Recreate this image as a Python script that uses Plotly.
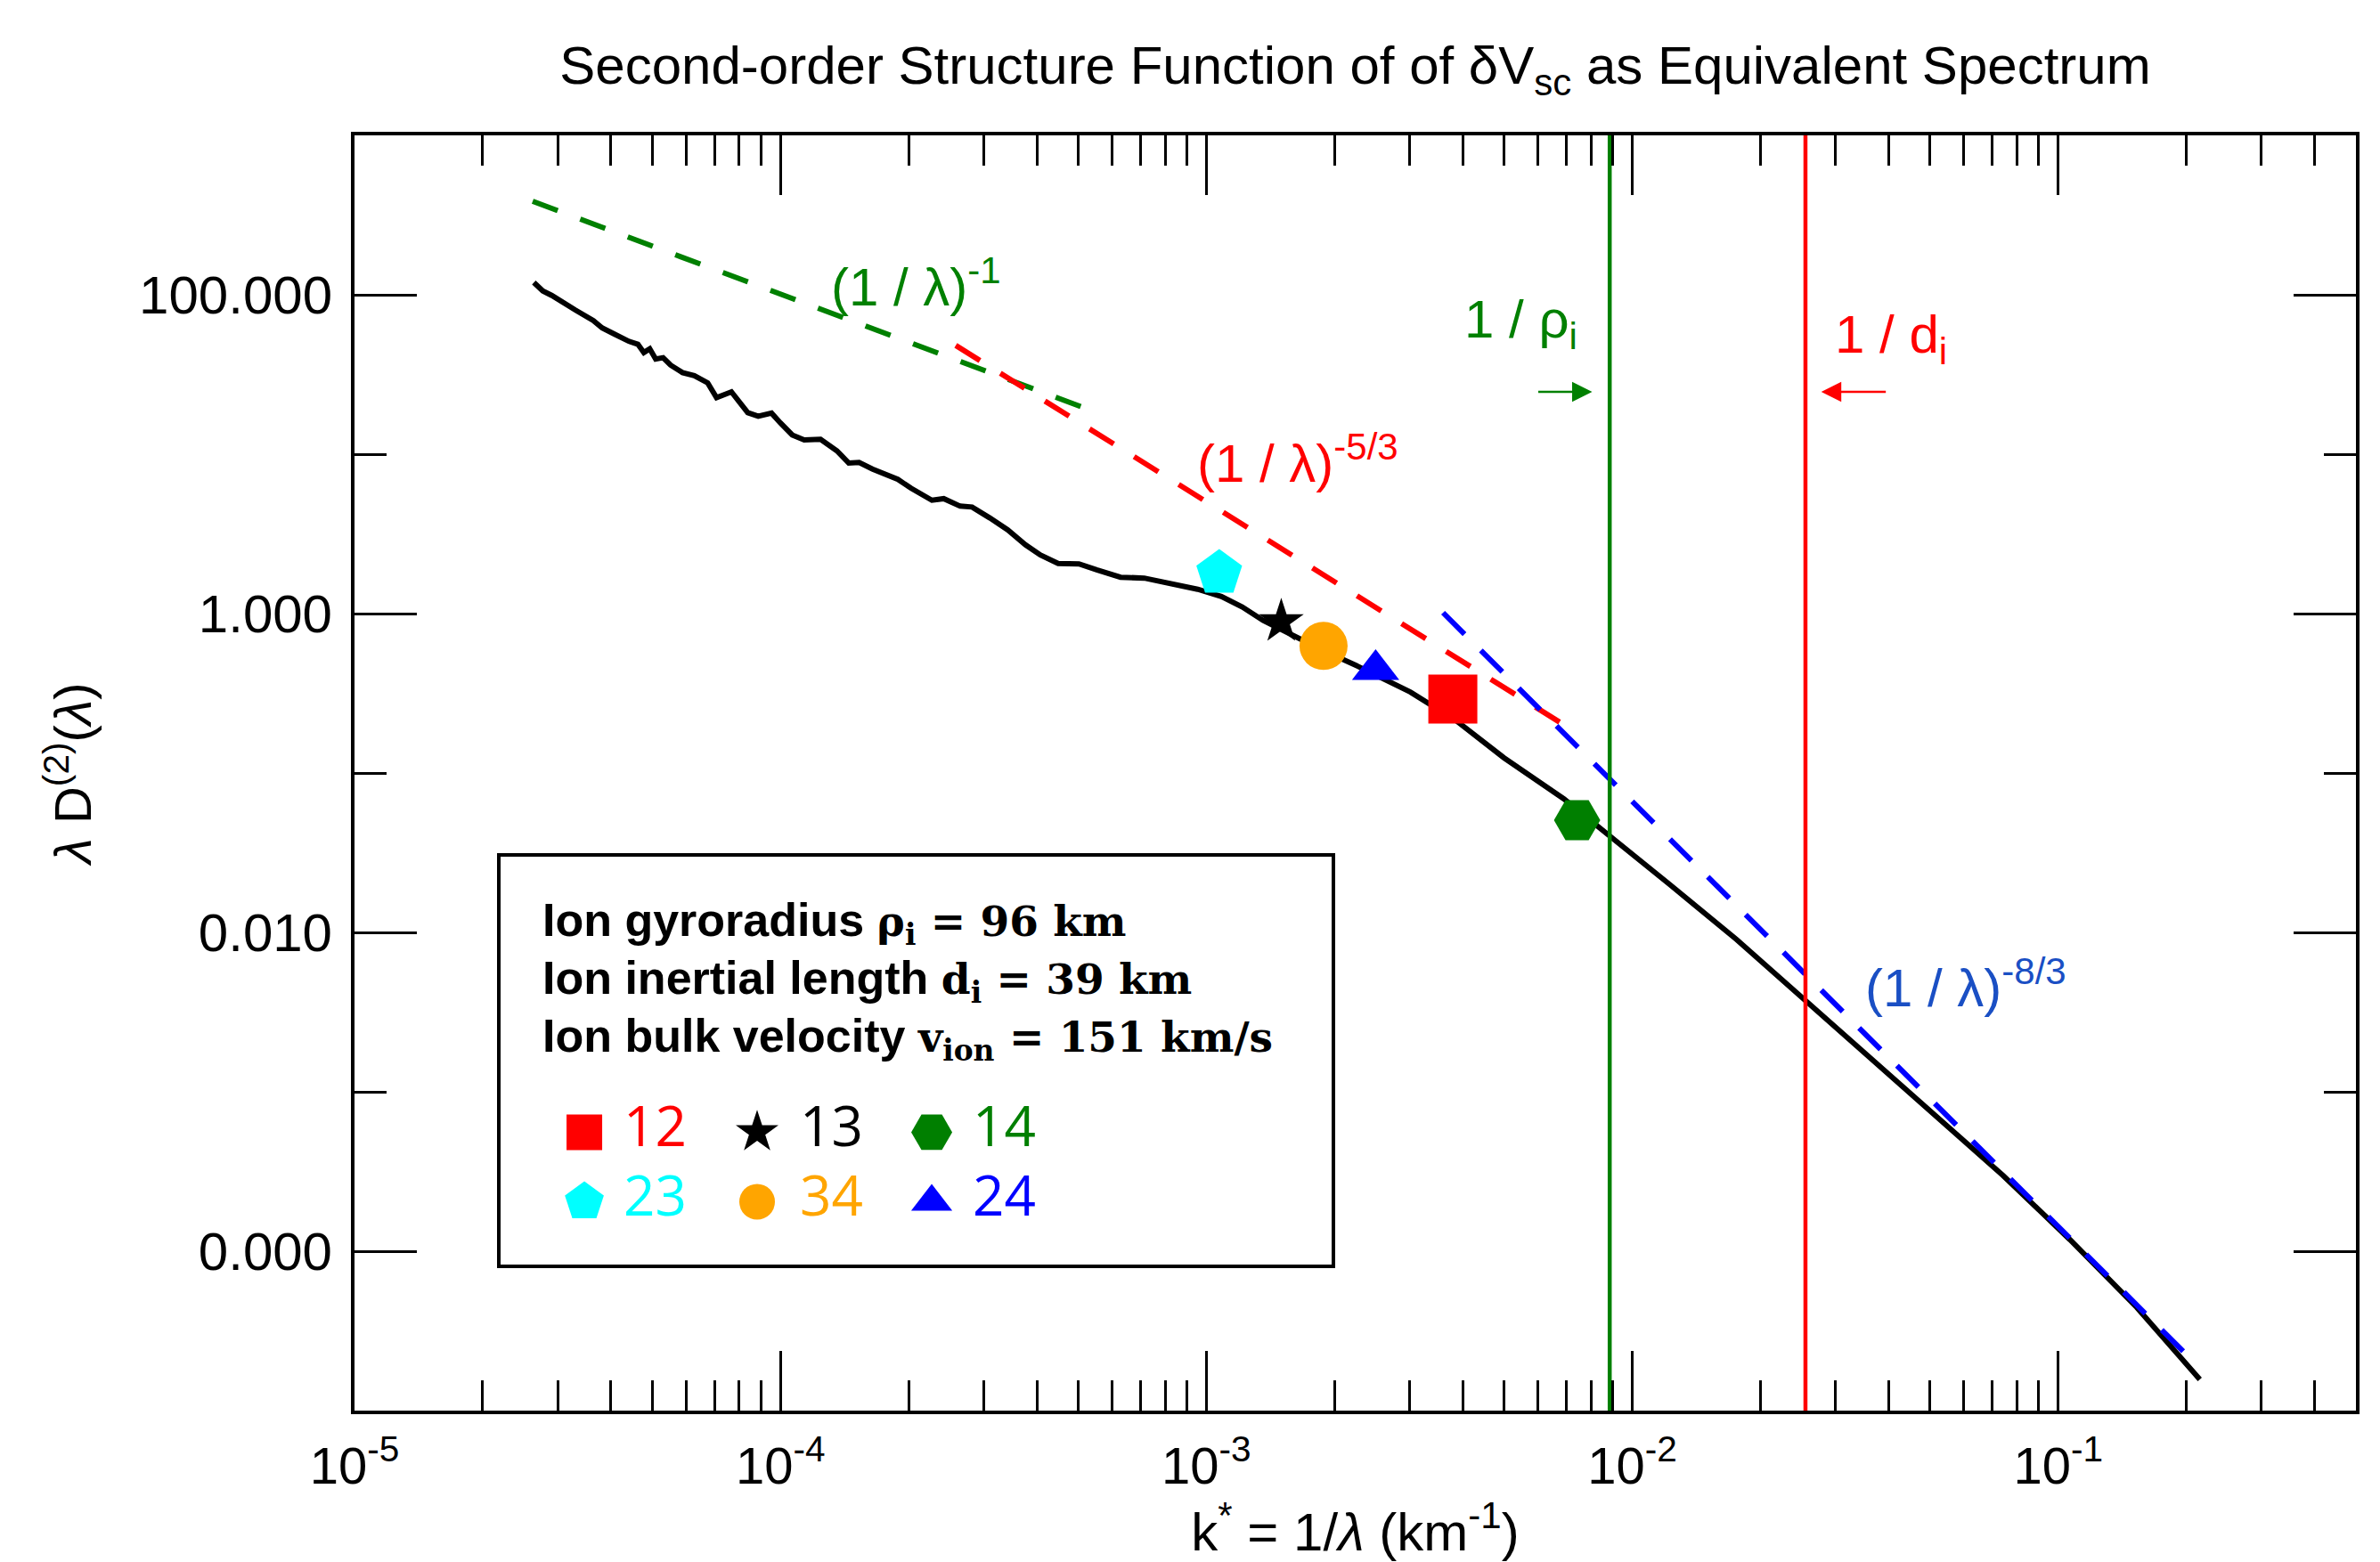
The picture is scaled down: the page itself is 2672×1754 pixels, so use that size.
import numpy as np
import plotly.graph_objects as go

# ---------------- data ----------------
k_curve = [2.637e-5, 2.768e-5, 2.904e-5, 3.047e-5, 3.303e-5, 3.636e-5, 3.815e-5, 4.069e-5,
           4.410e-5, 4.628e-5, 4.779e-5, 4.934e-5, 5.095e-5, 5.303e-5, 5.521e-5, 5.887e-5,
           6.277e-5, 6.748e-5, 7.079e-5, 7.672e-5, 8.381e-5, 8.867e-5, 9.531e-5, 1.000e-4,
           1.066e-4, 1.137e-4, 1.242e-4, 1.357e-4, 1.447e-4, 1.530e-4, 1.645e-4, 1.886e-4,
           2.027e-4, 2.268e-4, 2.418e-4, 2.642e-4, 2.818e-4, 3.101e-4, 3.416e-4, 3.761e-4,
           4.076e-4, 4.487e-4, 5.021e-4, 5.528e-4, 6.288e-4, 7.148e-4, 7.870e-4, 9.544e-4,
           1.085e-3, 1.214e-3, 1.359e-3, 1.596e-3, 1.873e-3, 2.272e-3, 3.013e-3, 3.852e-3,
           4.997e-3, 6.903e-3, 8.573e-3, 1.230e-2, 1.757e-2, 2.522e-2, 3.619e-2, 5.194e-2,
           7.420e-2, 0.1065, 0.1528, 0.2150]
d_curve = [119.3, 105.7, 99.1, 91.0, 80.1, 68.9, 61.9, 56.8,
           51.0, 48.9, 43.4, 45.8, 39.5, 40.3, 36.2, 32.5,
           31.1, 28.0, 22.6, 24.6, 18.2, 17.3, 18.1, 15.7,
           13.2, 12.3, 12.4, 10.5, 8.79, 8.87, 8.07, 6.95,
           6.11, 5.14, 5.26, 4.72, 4.66, 3.98, 3.35, 2.70,
           2.33, 2.06, 2.05, 1.88, 1.69, 1.67, 1.58, 1.42,
           1.28, 1.10, 0.906, 0.731, 0.590, 0.466, 0.322, 0.2136,
           0.1245, 0.0689, 0.0434, 0.01977, 9.02e-3, 3.86e-3, 1.631e-3, 6.98e-4,
           2.985e-4, 1.182e-4, 4.45e-5, 1.569e-5]

pair_labels = ["12", "13", "14", "23", "34", "24"]
pair_k = [3.79e-3, 1.499e-3, 7.42e-3, 1.072e-3, 1.884e-3, 2.497e-3]
pair_d = [0.291, 0.891, 0.0506, 1.794, 0.627, 0.445]
pair_colors = ["#ff0000", "#000000", "#007f00", "#00ffff", "#ffa500", "#0000ff"]
pair_symbols = ["square", "star", "hexagon2", "pentagon", "circle", "triangle-up"]

fit1_k = [2.62e-5, 5.07e-4]     # (1/lambda)^-1
fit1_d = [386.0, 19.9]
fit2_k = [2.58e-4, 6.90e-3]     # (1/lambda)^-5/3
fit2_d = [48.1, 0.201]
fit3_k = [3.595e-3, 0.214]      # (1/lambda)^-8/3
fit3_d = [1.013, 1.875e-5]

rho_i_k = 0.00885
d_i_k = 0.0255

x_tickvals = [1e-5, 1e-4, 1e-3, 1e-2, 1e-1]
x_ticktext = ["10<sup>-5</sup>", "10<sup>-4</sup>", "10<sup>-3</sup>", "10<sup>-2</sup>", "10<sup>-1</sup>"]
y_tickvals = [1e2, 1e0, 1e-2, 1e-4]
y_ticktext = ["100.000", "1.000", "0.010", "0.000"]
x_minor = [m * 10.0 ** e for e in range(-5, 0) for m in range(2, 10) if m * 10.0 ** e <= 0.5]
y_minor = [1e1, 1e-1, 1e-3]

# ---------------- styles ----------------
GREEN = "#008000"
RED = "#ff0000"
BLUE = "#0000ff"
BLUE_TXT = "#1a4fc4"
SANS = "Liberation Sans, Arial, Helvetica, sans-serif"
main_sizes = [55, 38, 52, 54, 54, 46]
legend_sizes = [40, 36, 46, 46, 40, 40]

fig = go.Figure()

fig.add_trace(go.Scatter(x=k_curve, y=d_curve, mode="lines",
                         line=dict(color="black", width=6), name="D2"))
fig.add_trace(go.Scatter(x=fit1_k, y=fit1_d, mode="lines",
                         line=dict(color=GREEN, width=6, dash="30px,27px")))
fig.add_trace(go.Scatter(x=fit2_k, y=fit2_d, mode="lines",
                         line=dict(color=RED, width=6, dash="32px,27px")))
fig.add_trace(go.Scatter(x=fit3_k, y=fit3_d, mode="lines",
                         line=dict(color=BLUE, width=6, dash="34px,26px")))
fig.add_trace(go.Scatter(x=[rho_i_k, rho_i_k], y=[1e-5, 1e3], mode="lines",
                         line=dict(color=GREEN, width=4.5)))
fig.add_trace(go.Scatter(x=[d_i_k, d_i_k], y=[1e-5, 1e3], mode="lines",
                         line=dict(color=RED, width=4.5)))

for k, d, c, s, sz, lab in zip(pair_k, pair_d, pair_colors, pair_symbols, main_sizes, pair_labels):
    fig.add_trace(go.Scatter(x=[k], y=[d], mode="markers", name=lab,
                             marker=dict(symbol=s, size=sz, color=c, line=dict(width=0))))

# ---------------- legend panel (own axes inside the box) ----------------
box_x0, box_x1, box_y0, box_y1 = 0.0721, 0.4891, 0.1131, 0.4358
col_marker = [0.1025, 0.3095, 0.5187]
col_label = [0.1494, 0.3607, 0.5678]
row_y = [0.326, 0.157]
for i, (lab, c, s, sz) in enumerate(zip(pair_labels, pair_colors, pair_symbols, legend_sizes)):
    r, cidx = divmod(i, 3)
    fig.add_trace(go.Scatter(x=[col_marker[cidx]], y=[row_y[r]], mode="markers",
                             marker=dict(symbol=s, size=sz, color=c, line=dict(width=0)),
                             xaxis="x2", yaxis="y2"))
    fig.add_trace(go.Scatter(x=[col_label[cidx]], y=[row_y[r]], mode="text", text=[lab],
                             textposition="middle right",
                             textfont=dict(family="Open Sans, Liberation Sans, sans-serif", size=62, color=c),
                             xaxis="x2", yaxis="y2"))

axis_common = dict(
    type="log", showgrid=False, zeroline=False, automargin=False,
    showline=True, linewidth=4, linecolor="black", mirror="ticks",
    ticks="inside", tickwidth=2.5, tickcolor="black",
    tickmode="array",
)

fig.update_layout(
    width=2672, height=1754,
    margin=dict(l=398, r=27, t=152, b=170, autoexpand=False),
    paper_bgcolor="white", plot_bgcolor="rgba(0,0,0,0)",
    showlegend=False,
    font=dict(family=SANS, color="black"),
    title=dict(text="Second-order Structure Function of of δV<sub>sc</sub> as Equivalent Spectrum",
               font=dict(size=60, family=SANS, color="black"),
               x=0.5, xref="paper", xanchor="center",
               y=1 - 73 / 1754, yref="container", yanchor="middle"),
    xaxis=dict(**axis_common, range=[-5, np.log10(0.5)],
               tickvals=x_tickvals, ticktext=x_ticktext, ticklen=67,
               tickfont=dict(size=58), ticklabelstandoff=8,
               minor=dict(tickmode="array", tickvals=x_minor, ticks="inside", ticklen=34,
                          tickwidth=2.5, tickcolor="black", showgrid=False),
               title=dict(text="k<sup>*</sup> = 1/<i>λ</i> (km<sup>-1</sup>)",
                          font=dict(size=60), standoff=30)),
    yaxis=dict(**axis_common, range=[-5, 3],
               tickvals=y_tickvals, ticktext=y_ticktext, ticklen=70,
               tickfont=dict(size=60), ticklabelstandoff=9,
               minor=dict(tickmode="array", tickvals=y_minor, ticks="inside", ticklen=36,
                          tickwidth=2.5, tickcolor="black", showgrid=False),
               title=dict(text="<i>λ</i> D<sup>(2)</sup>(<i>λ</i>)",
                          font=dict(size=58), standoff=36)),
    xaxis2=dict(domain=[box_x0, box_x1], range=[0, 1], visible=False, anchor="y2", fixedrange=True),
    yaxis2=dict(domain=[box_y0, box_y1], range=[0, 1], visible=False, anchor="x2", fixedrange=True),
    shapes=[dict(type="rect", xref="paper", yref="paper",
                 x0=box_x0, x1=box_x1, y0=box_y0, y1=box_y1,
                 line=dict(color="black", width=4), fillcolor="rgba(0,0,0,0)", layer="above")],
)

ann = []
lab_font = dict(family=SANS, size=60)
ann.append(dict(x=np.log10(1.30e-4), y=np.log10(118.0), xref="x", yref="y",
                text="(1 / λ)<sup>-1</sup>", showarrow=False, xanchor="left", yanchor="middle",
                font=dict(**lab_font, color=GREEN)))
ann.append(dict(x=np.log10(9.4e-4), y=np.log10(9.26), xref="x", yref="y",
                text="(1 / λ)<sup>-5/3</sup>", showarrow=False, xanchor="left", yanchor="middle",
                font=dict(**lab_font, color=RED)))
ann.append(dict(x=np.log10(0.0348), y=np.log10(4.74e-3), xref="x", yref="y",
                text="(1 / λ)<sup>-8/3</sup>", showarrow=False, xanchor="left", yanchor="middle",
                font=dict(**lab_font, color=BLUE_TXT)))
ann.append(dict(x=np.log10(4.0e-3), y=np.log10(66.0), xref="x", yref="y",
                text="1 / ρ<sub>i</sub>", showarrow=False, xanchor="left", yanchor="middle",
                font=dict(**lab_font, color=GREEN)))
ann.append(dict(x=np.log10(0.0296), y=np.log10(53.0), xref="x", yref="y",
                text="1 / d<sub>i</sub>", showarrow=False, xanchor="left", yanchor="middle",
                font=dict(**lab_font, color=RED)))
# arrows pointing to the characteristic scales
ann.append(dict(x=np.log10(8.05e-3), y=np.log10(24.6), xref="x", yref="y", text="",
                showarrow=True, ax=-62, ay=0, arrowhead=2, arrowsize=1.8, arrowwidth=2.5,
                arrowcolor=GREEN))
ann.append(dict(x=np.log10(0.02777), y=np.log10(24.6), xref="x", yref="y", text="",
                showarrow=True, ax=74, ay=0, arrowhead=2, arrowsize=1.8, arrowwidth=2.5,
                arrowcolor=RED))
# parameter text in the box
serif = "DejaVu Serif, Liberation Serif, serif"
lines = [
    ("Ion gyroradius ", "ρ<sub>i</sub> = 96 km"),
    ("Ion inertial length ", "d<sub>i</sub> = 39 km"),
    ("Ion bulk velocity ", "v<sub>ion</sub> = 151 km/s"),
]
line_y = [0.3820, 0.3369, 0.2915]
for (a, b), yy in zip(lines, line_y):
    ann.append(dict(x=0.0930, y=yy, xref="paper", yref="paper", showarrow=False,
                    xanchor="left", yanchor="middle",
                    text=f"<b>{a}</b><span style='font-family:{serif};font-size:47px'><b>{b}</b></span>",
                    font=dict(family=SANS, size=52, color="black")))
fig.update_layout(annotations=ann)

fig.write_html("out.html")
